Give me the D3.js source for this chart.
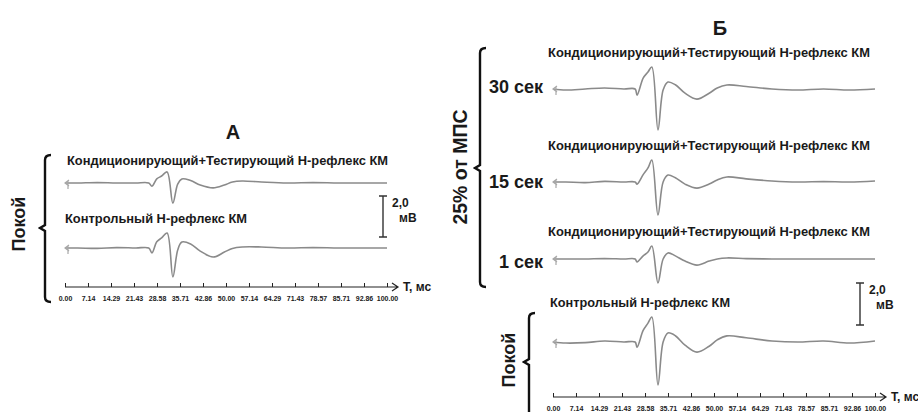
<!DOCTYPE html>
<html>
<head>
<meta charset="utf-8">
<script src="https://cdn.jsdelivr.net/npm/d3@7"></script>
<style>
  body { margin: 0; background: #fff; }
  text { font-family: "Liberation Sans", Arial, sans-serif; font-weight: bold; fill: #1a1a1a; }
</style>
</head>
<body>
<div id="chart"></div>
<script>
// time points, ms
var timeA = [0, 4, 10, 16, 22, 26, 27, 28.5, 30, 31.7, 33.5, 35, 36.3, 39, 42, 46, 49.5, 52, 55, 61, 69, 77, 85, 93, 100];
var timeB = [0, 4, 10, 16, 22, 25.5, 26.1, 28, 29.5, 30.7, 32.6, 34.2, 35.7, 38, 41, 44.7, 48.5, 51, 54, 60, 68, 76, 84, 92, 100];

// amplitudes, mV
var condA = [0, 0, 0.02, 0, 0, 0, -0.15, 0.2, 0.34, 0.54, -0.98, -0.05, 0.2, 0.12, -0.1, -0.24, -0.1, 0.05, 0.1, 0.05, 0, 0.02, 0, 0, 0];
var ctrlA = [0, 0, -0.02, 0.02, 0, 0, -0.24, 0.3, 0.49, 0.73, -1.41, -0.1, 0.29, 0.2, -0.15, -0.44, -0.2, -0.02, 0.05, 0.05, 0, 0.02, 0, 0, 0];
var sec30 = [0, -0.05, 0, 0.05, 0, 0, -0.29, 0.52, 0.81, 1.05, -1.95, -0.05, 0.33, 0.2, -0.2, -0.48, -0.2, 0.05, 0.19, 0.12, 0, -0.05, 0, -0.05, 0];
var sec15 = [0, 0, -0.03, 0.03, 0, 0, -0.1, 0.35, 0.67, 1.05, -1.57, 0, 0.33, 0.2, -0.1, -0.29, -0.1, 0.1, 0.24, 0.15, 0.05, 0, 0.02, 0, 0.05];
var sec1 = [0, 0, 0, 0.02, 0, 0, -0.14, 0.15, 0.33, 0.62, -1.14, 0, 0.29, 0.15, -0.1, -0.29, -0.1, 0, 0.05, 0.02, 0, 0, 0, 0, 0];
var ctrlB = [0, -0.05, -0.03, 0.05, 0, 0, -0.25, 0.55, 0.9, 1.19, -2.05, 0, 0.43, 0.3, -0.15, -0.48, -0.2, 0.1, 0.29, 0.2, 0.05, 0, 0.05, -0.05, 0.05];

var tickLabels = ["0.00", "7.14", "14.29", "21.43", "28.58", "35.71", "42.86", "50.00", "57.14", "64.29", "71.43", "78.57", "85.71", "92.86", "100.00"];
var condLabel = "Кондиционирующий+Тестирующий Н-рефлекс КМ";
var ctrlLabel = "Контрольный Н-рефлекс КМ";
var scaleMV = 2.0;

var width = 918, height = 412;

var svg = d3.select("#chart").append("svg")
    .attr("width", width)
    .attr("height", height);

svg.append("rect").attr("width", width).attr("height", height).attr("fill", "#fff");

var xA = d3.scaleLinear().domain([0, 100]).range([65, 387]);
var xB = d3.scaleLinear().domain([0, 100]).range([553, 875]);

// px per mV differs a touch between panels
function yScale(base, pxPerMv) {
  return d3.scaleLinear().domain([0, 1]).range([base, base - pxPerMv]);
}

function drawTrace(x, y, times, vals) {
  var pts = times.map(function(t, i) { return [t, vals[i]]; });
  var line = d3.line()
      .x(function(d) { return x(d[0]); })
      .y(function(d) { return y(d[1]); })
      .curve(d3.curveCatmullRom.alpha(0.5));
  svg.append("path")
      .attr("d", line(pts))
      .attr("fill", "none")
      .attr("stroke", "#8a8a8a")
      .attr("stroke-width", 1.6);
  // stimulus artefact at the start
  var x0 = x(times[0]), y0 = y(vals[0]);
  svg.append("path")
      .attr("d", "M" + (x0 + 4) + "," + (y0 - 3) + "L" + x0 + "," + y0 + "L" + (x0 + 4) + "," + (y0 + 3)
        + "M" + (x0 + 3) + "," + (y0 - 2) + "V" + (y0 + 6))
      .attr("fill", "none")
      .attr("stroke", "#a8a8a8")
      .attr("stroke-width", 1.2);
}

function drawAxis(x, yPos) {
  var g = svg.append("g").attr("transform", "translate(0," + yPos + ")");
  g.call(d3.axisBottom(x)
      .tickValues(tickLabels.map(function(d) { return +d; }))
      .tickFormat(function(d, i) { return tickLabels[i]; })
      .tickSizeInner(-4)
      .tickSizeOuter(0)
      .tickPadding(9));
  g.select(".domain").remove();
  g.selectAll(".tick line").attr("stroke", "#222").attr("stroke-width", 1);
  g.selectAll(".tick text")
      .style("font-family", "'Liberation Sans', Arial, sans-serif")
      .style("font-size", "7px")
      .style("font-weight", "bold")
      .attr("fill", "#222");
  var x1 = x.range()[1] + 11;
  g.append("path")
      .attr("d", "M" + x.range()[0] + ",0H" + x1 + "M" + (x1 - 6) + ",-4L" + x1 + ",0L" + (x1 - 6) + ",4")
      .attr("fill", "none")
      .attr("stroke", "#222")
      .attr("stroke-width", 1.2);
  svg.append("text")
      .attr("x", x1 + 5)
      .attr("y", yPos + 4)
      .style("font-size", "12px")
      .text("T, мс");
}

function drawScaleBar(xPos, y, bottom) {
  var h = y(0) - y(scaleMV);
  svg.append("path")
      .attr("d", "M" + (xPos - 4) + "," + (bottom - h) + "H" + (xPos + 4)
        + "M" + xPos + "," + (bottom - h) + "V" + bottom
        + "M" + (xPos - 4) + "," + bottom + "H" + (xPos + 4))
      .attr("fill", "none")
      .attr("stroke", "#333")
      .attr("stroke-width", 1.4);
  svg.append("text").attr("x", xPos + 9).attr("y", bottom - h + 11)
      .style("font-size", "12px").text("2,0");
  svg.append("text").attr("x", xPos + 16).attr("y", bottom - h + 26)
      .style("font-size", "12px").text("мВ");
}

function drawBrace(x, top, mid, bottom) {
  svg.append("path")
      .attr("d", "M" + (x + 6) + "," + top + "Q" + x + "," + top + " " + x + "," + (top + 5)
        + "V" + (mid - 3) + "L" + (x - 5) + "," + mid + "L" + x + "," + (mid + 3)
        + "V" + (bottom - 5) + "Q" + x + "," + bottom + " " + (x + 6) + "," + bottom)
      .attr("fill", "none")
      .attr("stroke", "#111")
      .attr("stroke-width", 2.4);
}

function label(x, y, txt, size, len) {
  var t = svg.append("text").attr("x", x).attr("y", y).style("font-size", size + "px").text(txt);
  if (len) t.attr("textLength", len).attr("lengthAdjust", "spacingAndGlyphs");
  return t;
}

function vLabel(x, y, txt, size) {
  svg.append("text")
      .attr("transform", "translate(" + x + "," + y + ") rotate(-90)")
      .attr("text-anchor", "middle")
      .style("font-size", size + "px")
      .text(txt);
}

// ---- panel А ----
var yCondA = yScale(183, 20.5), yCtrlA = yScale(248, 20.5);

label(233, 139, "А", 20).attr("text-anchor", "middle");
label(67, 165, condLabel, 12, 321);
label(65, 223, ctrlLabel, 12, 182);
drawTrace(xA, yCondA, timeA, condA);
drawTrace(xA, yCtrlA, timeA, ctrlA);
drawScaleBar(383, yCtrlA, 237);
drawAxis(xA, 287);
drawBrace(45, 155, 228, 302);
vLabel(25, 224, "Покой", 18);

// ---- panel Б ----
var y30 = yScale(89, 21), y15 = yScale(182, 21), y1 = yScale(259, 21), yCtrlB = yScale(342, 21);

label(720, 35, "Б", 20).attr("text-anchor", "middle");
label(548, 57, condLabel, 12, 322);
label(548, 150, condLabel, 12, 322);
label(548, 236, condLabel, 12, 322);
label(550, 307, ctrlLabel, 12, 180);

label(543, 93, "30 сек", 18).attr("text-anchor", "end");
label(543, 188, "15 сек", 18).attr("text-anchor", "end");
label(543, 268, "1 сек", 18).attr("text-anchor", "end");

drawTrace(xB, y30, timeB, sec30);
drawTrace(xB, y15, timeB, sec15);
drawTrace(xB, y1, timeB, sec1);
drawTrace(xB, yCtrlB, timeB, ctrlB);
drawScaleBar(860, yCtrlB, 325);
drawAxis(xB, 397);

drawBrace(480, 48, 168, 287);
vLabel(467, 167, "25% от МПС", 19.5);
drawBrace(529, 313, 362, 425);
vLabel(515, 360, "Покой", 18);
</script>
</body>
</html>
